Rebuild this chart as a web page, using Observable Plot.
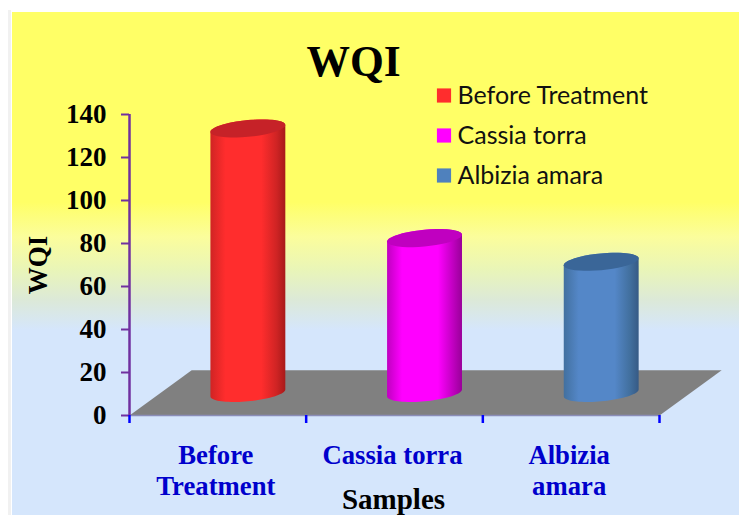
<!DOCTYPE html>
<html>
<head>
<meta charset="utf-8">
<script src="https://cdn.jsdelivr.net/npm/d3@7"></script>
<script src="https://cdn.jsdelivr.net/npm/@observablehq/plot@0.6"></script>
<style>
html,body{margin:0;padding:0;background:#fff;overflow:hidden}
</style>
</head>
<body>
<div id="chart"></div>
<script>
const samples = ["Before Treatment", "Cassia torra", "Albizia amara"];
const sampleLabels = ["Before\nTreatment", "Cassia torra", "Albizia\namara"];
const wqiValues = [123, 72, 61];
const bodyMid = ["#ff2d2d", "#ff00ff", "#5487c8"];
const bodyEdgeL = ["#d02424", "#c000c0", "#42709f"];
const bodyEdgeR = ["#a81a1a", "#990099", "#365a85"];
const capColors = ["#c62228", "#c000c0", "#3a6698"];
const legendColors = ["#ff2d2d", "#ff00ff", "#4f81bd"];
const yTicks = [0, 20, 40, 60, 80, 100, 120, 140];
const xTicks = [0, 1, 2, 3];

const serif = "'Liberation Serif', serif";
const floorDx = 0.352, floorDy = 21;
const floorX = [0, 3, 3 + floorDx, floorDx];
const floorY = [0, 0, floorDy, floorDy];
const floorPts = floorX.map((x, i) => ({x, y: floorY[i]}));

const halfW = 0.212, tilt = 1.6, minor = 3.9;
const steps = d3.range(0, 41).map(i => i / 40);
function rim(cx, cy, from, to) {
  return steps.map(f => {
    const t = from + (to - from) * f;
    return {x: cx + halfW * Math.cos(t), y: cy + tilt * Math.cos(t) + minor * Math.sin(t)};
  });
}
const cylinders = samples.map((s, i) => {
  const cx = i + 0.5 + floorDx / 2 - 0.006;
  const base = floorDy / 2;
  const top = base + wqiValues[i];
  return {
    body: [...rim(cx, top, Math.PI, 0), ...rim(cx, base, 0, -Math.PI)],
    cap: rim(cx, top, 0, 2 * Math.PI)
  };
});

const defs = () => {
  const d = d3.create("svg:defs");
  samples.forEach((s, i) => {
    const g = d.append("linearGradient").attr("id", "cyl" + i)
      .attr("x1", 0).attr("x2", 1).attr("y1", 0).attr("y2", 0);
    [[0, bodyEdgeL[i]], [0.2, bodyMid[i]], [0.68, bodyMid[i]], [0.88, bodyEdgeL[i]], [1, bodyEdgeR[i]]]
      .forEach(([o, c]) => g.append("stop").attr("offset", o).attr("stop-color", c));
  });
  return d.node();
};

const bg = [
  "linear-gradient(#f1f1f1,#f1f1f1) 8px 10px / 3px 505px no-repeat",
  "linear-gradient(#ffff66 0px, #ffff66 190px, #fbfd9c 225px, #e9f5b8 258px, #dce9d8 288px, #d5e6fc 318px, #d5e6fc 503px) 12px 12px / 727px 503px no-repeat"
].join(",");

const legendMarks = samples.flatMap((s, i) => [
  Plot.dot([s], {frameAnchor: "top-left", dx: 314.5, dy: -19 + i * 40, r: 8, symbol: "square", fill: legendColors[i], stroke: "none"}),
  Plot.text([s], {frameAnchor: "top-left", dx: 328, dy: -19 + i * 40, text: d => d, textAnchor: "start", lineAnchor: "middle", fontFamily: "Lato, sans-serif", fontSize: 25, fill: "#111"})
]);

const plot = Plot.plot({
  width: 739, height: 515,
  marginLeft: 129, marginRight: 80, marginTop: 114, marginBottom: 100,
  style: {background: bg},
  x: {domain: [0, 3], axis: null},
  y: {domain: [0, 140], axis: null},
  marks: [
    defs,
    Plot.line(floorPts, {x: "x", y: "y", fill: "#808080", stroke: "none"}),
    Plot.ruleY([0], {x1: 0, x2: 3, stroke: "#8a8db8", strokeWidth: 1.5}),
    ...cylinders.flatMap((c, i) => [
      Plot.line(c.body, {x: "x", y: "y", fill: `url(#cyl${i})`, stroke: "none"}),
      Plot.line(c.cap, {x: "x", y: "y", fill: capColors[i], stroke: "none"})
    ]),
    Plot.ruleX([0], {y1: 0, y2: 140, stroke: "#7030a0", strokeWidth: 2.5}),
    Plot.axisY({ticks: yTicks, tickSize: 8, tickPadding: 15, stroke: "#7030a0", strokeWidth: 2, fill: "#000",
      fontFamily: serif, fontWeight: "bold", fontSize: 27, label: null}),
    Plot.axisX({ticks: xTicks, tickSize: 8, tickFormat: () => "", stroke: "#0000ff", strokeWidth: 2.5, label: null}),
    Plot.text(sampleLabels, {
      x: (d, i) => i + 0.5, y: () => 0, text: d => d, dx: -2, dy: 26, lineAnchor: "top", lineHeight: 1.18,
      fontFamily: serif, fontWeight: "bold", fontSize: 26.7, fill: "#0000cc"
    }),
    Plot.text(["WQI"], {frameAnchor: "top", dx: -41, dy: -69, text: d => d, fontFamily: serif, fontWeight: "bold", fontSize: 43.5, fill: "#000"}),
    Plot.text(["WQI"], {frameAnchor: "left", textAnchor: "middle", dx: -91, dy: 0, rotate: -90, text: d => d, fontFamily: serif, fontWeight: "bold", fontSize: 27, fill: "#000"}),
    Plot.text(["Samples"], {frameAnchor: "bottom", dx: -1, dy: 93, text: d => d, fontFamily: serif, fontWeight: "bold", fontSize: 29, fill: "#000"}),
    ...legendMarks
  ]
});
document.getElementById("chart").append(plot);
</script>
</body>
</html>
